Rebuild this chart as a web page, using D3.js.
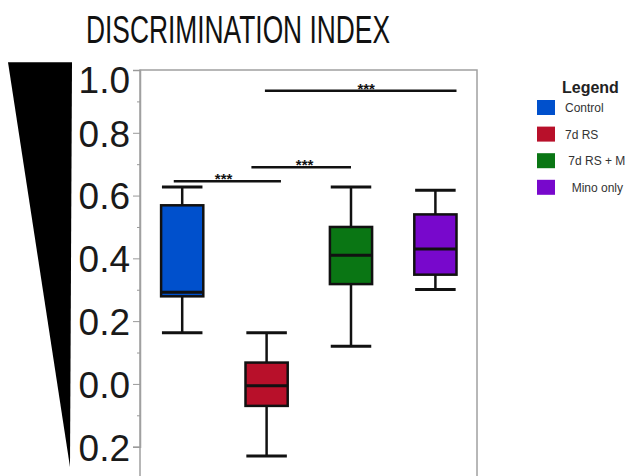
<!DOCTYPE html>
<html>
<head>
<meta charset="utf-8">
<script src="https://cdn.jsdelivr.net/npm/d3@7"></script>
<style>
  body { margin: 0; background: #fff; }
  svg { display: block; font-family: "Liberation Sans", Arial, sans-serif; }
</style>
</head>
<body>
<svg class="target" width="641" height="476"></svg>
<script>
// groups and box stats
var groups = ["Control", "7d RS", "7d RS + M", "Mino only"];
var legend_labels = ["Control", "7d RS", " 7d RS + M", "  Mino only"];
var colors = ["#0050cc", "#b8102a", "#0a7614", "#7808cc"];
var whisk_lo = [0.163, -0.23, 0.12, 0.301];
var q1 = [0.279, -0.07, 0.318, 0.348];
var median = [0.292, -0.006, 0.41, 0.43];
var q3 = [0.569, 0.068, 0.50, 0.54];
var whisk_hi = [0.627, 0.163, 0.627, 0.617];

var tick_values = [1.0, 0.8, 0.6, 0.4, 0.2, 0.0, -0.2];
var tick_labels = ["1.0", "0.8", "0.6", "0.4", "0.2", "0.0", "0.2"];

// significance bars: start / end in group units, height, star position
var sig_from = [0.98, 0.82, -0.1];
var sig_to = [3.25, 2.0, 1.17];
var sig_y = [0.934, 0.69, 0.646];
var sig_star = [2.18, 1.45, 0.49];

var svg = d3.select(".target");

var y = d3.scaleLinear().domain([-0.2, 1.0]).range([446.7, 70]);
var x = d3.scaleBand().domain(groups).range([140, 477.6]).padding(0);
var gx = d3.scaleLinear().domain([0, 1]).range([x(groups[0]) + x.bandwidth() / 2, x(groups[1]) + x.bandwidth() / 2]);

var box_w = x.step() * 0.5;
var cap_w = x.step() * 0.48;

// black wedge on the left
svg.append("path")
    .attr("d", "M8," + y(1.025) + "L72," + y(1.025) + "L70," + y(-0.265) + "Z")
    .style("fill", "#000");

// title
svg.append("text")
    .attr("x", 86).attr("y", 43)
    .attr("textLength", 304).attr("lengthAdjust", "spacingAndGlyphs")
    .style("font-size", "39px").style("fill", "#111")
    .text("DISCRIMINATION INDEX");

// frame
svg.append("rect")
    .attr("x", 140).attr("y", y(1.0))
    .attr("width", 337).attr("height", y(-0.32) - y(1.0))
    .style("fill", "none").style("stroke", "#a0a0a0").style("stroke-width", 1.5);

// y axis
var minor = svg.append("g").attr("transform", "translate(140,0)")
    .call(d3.axisLeft(y).tickValues(d3.range(-0.1, 1.0, 0.2)).tickSize(3).tickFormat(""));
minor.select(".domain").remove();
minor.selectAll("line").style("stroke", "#999");

var yaxis = svg.append("g").attr("transform", "translate(140,0)")
    .call(d3.axisLeft(y).tickValues(tick_values).tickSize(7).tickPadding(3)
        .tickFormat(function (d, i) { return tick_labels[i]; }));
yaxis.select(".domain").style("stroke", "#a0a0a0").style("stroke-width", 1.5);
yaxis.selectAll("line").style("stroke", "#999");
yaxis.selectAll("text")
    .style("font-size", "37px").style("fill", "#1a1a1a")
    .style("font-family", "'Liberation Sans', Arial, sans-serif")
    .attr("dy", function (d, i) { return i == 0 ? "0.62em" : "0.36em"; });

// boxes
var g = svg.append("g");
groups.forEach(function (name, i) {
    var cx = x(name) + x.bandwidth() / 2;
    g.append("line")
        .attr("x1", cx).attr("x2", cx).attr("y1", y(whisk_hi[i])).attr("y2", y(whisk_lo[i]))
        .style("stroke", "#111").style("stroke-width", 2.5);
    [whisk_hi[i], whisk_lo[i]].forEach(function (v) {
        g.append("line")
            .attr("x1", cx - cap_w / 2).attr("x2", cx + cap_w / 2)
            .attr("y1", y(v)).attr("y2", y(v))
            .style("stroke", "#111").style("stroke-width", 3);
    });
    g.append("rect")
        .attr("x", cx - box_w / 2).attr("y", y(q3[i]))
        .attr("width", box_w).attr("height", y(q1[i]) - y(q3[i]))
        .style("fill", colors[i]).style("stroke", "#111").style("stroke-width", 2.5);
    g.append("line")
        .attr("x1", cx - box_w / 2).attr("x2", cx + box_w / 2)
        .attr("y1", y(median[i])).attr("y2", y(median[i]))
        .style("stroke", "#111").style("stroke-width", 3);
});

// significance bars
sig_y.forEach(function (v, i) {
    svg.append("line")
        .attr("x1", gx(sig_from[i])).attr("x2", gx(sig_to[i]))
        .attr("y1", y(v)).attr("y2", y(v))
        .style("stroke", "#111").style("stroke-width", 2.5);
    svg.append("text")
        .attr("x", gx(sig_star[i])).attr("y", y(v) + 3)
        .attr("text-anchor", "middle")
        .style("font-size", "15px").style("font-weight", "bold").style("fill", "#111")
        .text("***");
});

// legend
svg.append("text")
    .attr("x", 562).attr("y", 93)
    .style("font-size", "16px").style("font-weight", "bold").style("fill", "#222")
    .text("Legend");

var leg = svg.selectAll(".leg").data(groups).enter().append("g")
    .attr("transform", function (d, i) { return "translate(537," + (100 + i * 26.6) + ")"; });
leg.append("rect")
    .attr("width", 18).attr("height", 15)
    .style("fill", function (d, i) { return colors[i]; });
leg.append("text")
    .attr("x", 28).attr("y", 12)
    .style("font-size", "12px").style("fill", "#333").style("white-space", "pre")
    .text(function (d, i) { return legend_labels[i]; });
</script>
</body>
</html>
